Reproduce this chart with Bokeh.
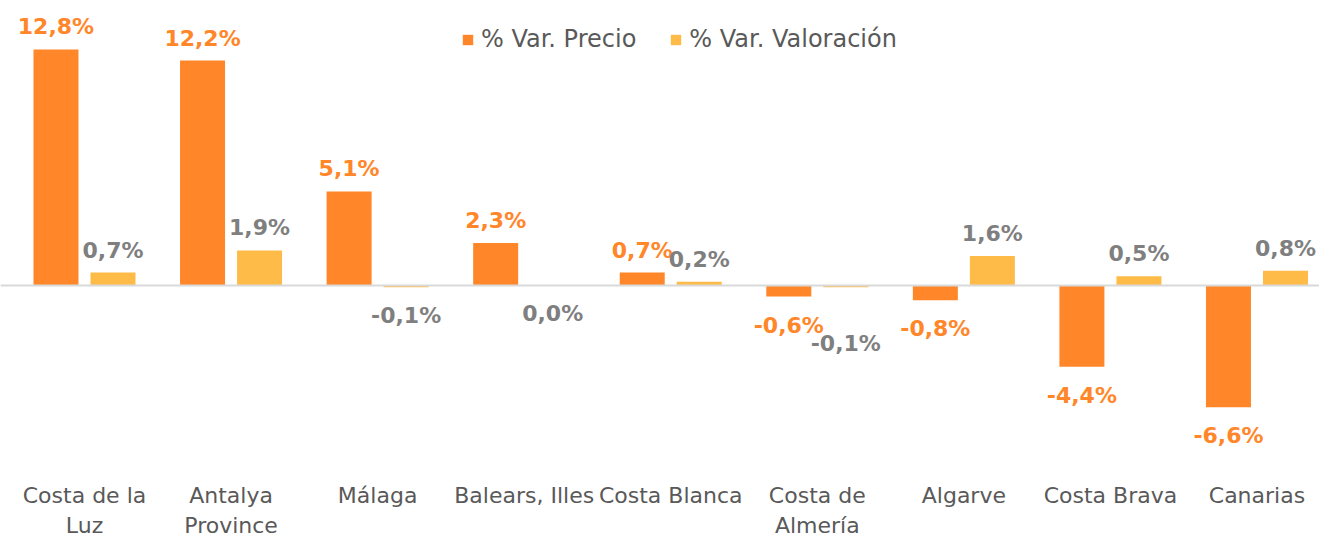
from bokeh.plotting import figure
from bokeh.models import ColumnDataSource, Range1d, FixedTicker, Span, Legend, LegendItem, LabelSet
from bokeh.core.properties import value
from bokeh.embed import file_html
from bokeh.resources import INLINE

categories = ["Costa de la\nLuz", "Antalya\nProvince", "Málaga", "Balears, Illes", "Costa Blanca",
              "Costa de\nAlmería", "Algarve", "Costa Brava", "Canarias"]
var_precio = [12.8, 12.2, 5.1, 2.3, 0.7, -0.6, -0.8, -4.4, -6.6]
var_valoracion = [0.7, 1.9, -0.1, 0.0, 0.2, -0.1, 1.6, 0.5, 0.8]
series_names = ["% Var. Precio", "% Var. Valoración"]

ORANGE = "#FF8629"
YELLOW = "#FFBB47"
GRAY_TXT = "#595959"
GRAY_VAL = "#7F7F7F"
FONT = "DejaVu Sans"

xs = list(range(len(categories)))
off = 0.1945
bw = 0.307

def fmt(v):
    return f"{v:.1f}".replace(".", ",") + "%"

p = figure(frame_width=1319, frame_height=462, output_backend="svg", toolbar_location=None,
           x_range=Range1d(-0.5731, 8.4266), y_range=Range1d(-9.599, 15.456),
           y_axis_location=None, min_border_left=0, min_border_right=0, min_border_top=0,
           min_border_bottom=0)
p.outline_line_color = None
p.grid.visible = False
p.background_fill_color = "white"
p.border_fill_color = "white"

s1 = ColumnDataSource(dict(x=[x - off for x in xs], top=var_precio))
s2 = ColumnDataSource(dict(x=[x + off for x in xs], top=var_valoracion))
r1 = p.vbar(x="x", top="top", bottom=0, width=bw, source=s1, fill_color=ORANGE, line_color=None)
r2 = p.vbar(x="x", top="top", bottom=0, width=bw, source=s2, fill_color=YELLOW, line_color=None)

p.add_layout(Span(location=0, dimension="width", line_color="#D9D9D9", line_width=2))

def add_labels(src, vals, color, nudge=None):
    nudge = nudge or {}
    for i, v in enumerate(vals):
        base, yo = ("bottom", 10) if v > 0 else ("top", -16)
        yo += nudge.get(i, 0)
        s = ColumnDataSource(dict(x=[src.data["x"][i]], y=[v], t=[fmt(v)]))
        p.add_layout(LabelSet(x="x", y="y", text="t", source=s, text_align="center",
                              text_baseline=base, y_offset=yo, text_color=color,
                              text_font=value(FONT), text_font_size="22px",
                              text_font_style="bold"))

add_labels(s1, var_precio, ORANGE)
add_labels(s2, var_valoracion, GRAY_VAL, nudge={5: -28})

ax = p.xaxis[0]
ax.ticker = FixedTicker(ticks=xs)
ax.major_label_overrides = {i: c for i, c in enumerate(categories)}
ax.axis_line_color = None
ax.major_tick_line_color = None
ax.minor_tick_line_color = None
ax.major_label_text_font = FONT
ax.major_label_text_font_size = "22px"
ax.major_label_text_color = GRAY_TXT
ax.major_label_standoff = 14

legend = Legend(items=[LegendItem(label=series_names[0], renderers=[r1]),
                       LegendItem(label=series_names[1], renderers=[r2])],
                orientation="horizontal", location=(461, 409),
                glyph_width=13, glyph_height=13, label_standoff=7, spacing=33,
                padding=0, margin=0, border_line_color=None, background_fill_alpha=0,
                label_text_font=FONT, label_text_font_size="24px", label_text_color=GRAY_TXT)
p.add_layout(legend)

open("out.html", "w").write(file_html(p, INLINE))
